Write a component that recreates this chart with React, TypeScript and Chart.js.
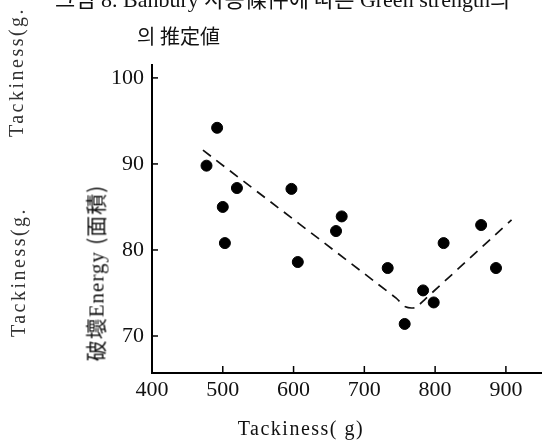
import React, { useEffect, useRef } from 'react';
import { Chart, registerables } from 'chart.js';

Chart.register(...registerables);

const pointX = [477, 492, 520, 500, 503, 597, 606, 660, 668, 733, 757, 783, 798, 812, 865, 886];
const pointY = [89.8, 94.2, 87.2, 85.0, 80.8, 87.1, 78.6, 82.2, 83.9, 77.9, 71.4, 75.3, 73.9, 80.8, 82.9, 77.9];
const lineX = [472, 745, 758, 772, 786, 908];
const lineY = [91.6, 74.4, 73.4, 73.3, 74.3, 83.5];
const xTicks = [400, 500, 600, 700, 800, 900];
const yTicks = [70, 80, 90, 100];

const serif = '"Liberation Serif", "DejaVu Serif", serif';
const cjk = '"Noto Sans CJK KR", "Noto Sans CJK SC", sans-serif';

const innerTicks = {
  id: 'innerTicks',
  afterDraw(chart: any) {
    const { ctx, chartArea, scales } = chart;
    const x = scales.x;
    const y = scales.y;
    ctx.save();
    ctx.strokeStyle = '#000';
    ctx.lineWidth = 1.5;
    yTicks.forEach((v) => {
      const py = y.getPixelForValue(v);
      ctx.beginPath();
      ctx.moveTo(chartArea.left, py);
      ctx.lineTo(chartArea.left + 6, py);
      ctx.stroke();
    });
    xTicks.slice(1).forEach((v) => {
      const px = x.getPixelForValue(v);
      ctx.beginPath();
      ctx.moveTo(px, chartArea.bottom);
      ctx.lineTo(px, chartArea.bottom - 7);
      ctx.stroke();
    });
    ctx.restore();
  },
};

export default function App() {
  const ref = useRef<HTMLCanvasElement>(null);

  useEffect(() => {
    document.body.style.margin = '0';
    document.body.style.overflow = 'hidden';
    const chart = new Chart(ref.current as HTMLCanvasElement, {
      type: 'scatter',
      data: {
        datasets: [
          {
            type: 'scatter',
            data: pointX.map((v, i) => ({ x: v, y: pointY[i] })),
            backgroundColor: '#000',
            borderColor: '#000',
            pointRadius: 5.5,
            pointHoverRadius: 5.5,
          } as any,
          {
            type: 'line',
            data: lineX.map((v, i) => ({ x: v, y: lineY[i] })),
            borderColor: '#111',
            borderWidth: 1.7,
            borderDash: [10, 7],
            pointRadius: 0,
            fill: false,
            tension: 0.2,
            showLine: true,
          } as any,
        ],
      },
      options: {
        animation: false,
        responsive: false,
        layout: { autoPadding: false, padding: { top: 65, right: 0, left: 0, bottom: 0 } },
        plugins: { legend: { display: false }, tooltip: { enabled: false } },
        scales: {
          x: {
            type: 'linear',
            min: 400,
            max: 951,
            afterBuildTicks: (s: any) => {
              s.ticks = xTicks.map((v) => ({ value: v }));
            },
            afterFit: (s: any) => {
              s.height = 73;
              s.paddingLeft = 0;
              s.paddingRight = 0;
            },
            grid: { display: false, drawTicks: false },
            border: { display: true, color: '#000', width: 2 },
            ticks: {
              padding: 4,
              color: '#111',
              font: { family: serif, size: 22 },
              callback: (v: any) => String(v),
            },
          },
          y: {
            type: 'linear',
            min: 65.7,
            max: 101.5,
            afterBuildTicks: (s: any) => {
              s.ticks = yTicks.map((v) => ({ value: v }));
            },
            afterFit: (s: any) => {
              s.width = 152;
              s.paddingTop = 0;
              s.paddingBottom = 0;
            },
            grid: { display: false, drawTicks: false },
            border: { display: true, color: '#000', width: 2 },
            ticks: {
              padding: 8,
              color: '#111',
              font: { family: serif, size: 22 },
              callback: (v: any) => String(v),
            },
          },
        },
      },
      plugins: [innerTicks],
    });
    return () => chart.destroy();
  }, []);

  const abs: React.CSSProperties = { position: 'absolute', whiteSpace: 'nowrap', lineHeight: 1 };

  return (
    <div style={{ position: 'relative', width: 542, height: 446, overflow: 'hidden', background: '#fff' }}>
      <canvas ref={ref} width={542} height={446} style={{ display: 'block' }} />
      <div style={{ ...abs, left: 55, top: -14, fontSize: 22, fontFamily: serif, color: '#111' }}>
        <span style={{ fontFamily: cjk }}>그림</span> 8. Banbury <span style={{ fontFamily: cjk }}>사용條件에 따른</span> Green strength<span style={{ fontFamily: cjk }}>의</span>
      </div>
      <div style={{ ...abs, left: 137, top: 26, fontSize: 20, fontFamily: cjk, color: '#111' }}>의 推定値</div>
      <div
        style={{
          ...abs,
          left: 16,
          top: 72,
          fontSize: 20,
          fontFamily: serif,
          color: '#333',
          letterSpacing: 2.5,
          transform: 'translate(-50%, -50%) rotate(-90deg)',
        }}
      >
        Tackiness(g.
      </div>
      <div
        style={{
          ...abs,
          left: 18,
          top: 272,
          fontSize: 20,
          fontFamily: serif,
          color: '#333',
          letterSpacing: 2.5,
          transform: 'translate(-50%, -50%) rotate(-90deg)',
        }}
      >
        Tackiness(g.
      </div>
      <div
        style={{
          ...abs,
          left: 96,
          top: 273,
          fontSize: 21,
          fontFamily: serif,
          color: '#111',
          letterSpacing: 1,
          transform: 'translate(-50%, -50%) rotate(-90deg)',
        }}
      >
        <span style={{ fontFamily: cjk }}>破壞</span>Energy <span style={{ fontFamily: cjk }}>(面積)</span>
      </div>
      <div
        style={{
          ...abs,
          left: 301,
          top: 428,
          fontSize: 20,
          fontFamily: serif,
          color: '#111',
          letterSpacing: 1.5,
          transform: 'translate(-50%, -50%)',
        }}
      >
        Tackiness( g)
      </div>
    </div>
  );
}
